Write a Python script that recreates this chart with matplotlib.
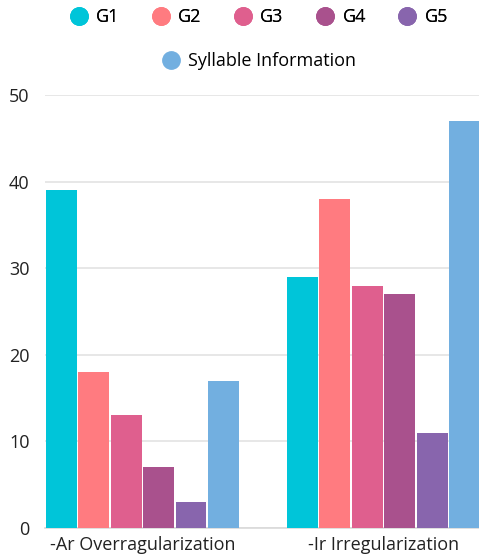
import matplotlib
matplotlib.use('Agg')
import matplotlib.pyplot as plt
from matplotlib.lines import Line2D
import numpy as np

categories = ['-Ar Overragularization', '-Ir Irregularization']
series = ['G1', 'G2', 'G3', 'G4', 'G5', 'Syllable Information']
values = {
    'G1': [39, 29],
    'G2': [18, 38],
    'G3': [13, 28],
    'G4': [7, 27],
    'G5': [3, 11],
    'Syllable Information': [17, 47],
}
colors = ['#00c5d9', '#ff7b80', '#df5f8e', '#a9518d', '#8865ad', '#72afe0']
yticks = [0, 10, 20, 30, 40, 50]

plt.rcParams['font.family'] = ['Open Sans', 'DejaVu Sans']

W, H = 479, 554
fig = plt.figure(figsize=(W / 100, H / 100), dpi=100)
fig.patch.set_facecolor('white')

# axes box in pixels: left 45, bottom at 528, top at 95
ax = fig.add_axes([45 / W, (H - 528) / H, 1 - 45 / W, (528 - 95) / H])

step = 0.1345
width = 0.128
x = np.arange(len(categories))
for i, (name, col) in enumerate(zip(series, colors)):
    ax.bar(x + (i - 2.5) * step, values[name], width=width, color=col,
           zorder=3, clip_on=True)

ax.set_xlim(-0.404, (W - 142.5) / 241)
ax.set_ylim(0, 50)
ax.set_yticks(yticks)
ax.set_xticks(x)
ax.set_xticklabels(categories, fontsize=13, color='#222222')
ax.tick_params(axis='x', length=0, pad=6)
ax.tick_params(axis='y', length=0, pad=11, labelsize=13, labelcolor='#222222')

ax.grid(axis='y', color='#e3e3e3', linewidth=1.2, zorder=0)
for side in ['top', 'right', 'left']:
    ax.spines[side].set_visible(False)
ax.spines['bottom'].set_color('#d9d9d9')
ax.spines['bottom'].set_linewidth(1.2)

handles = [Line2D([], [], marker='o', linestyle='', markersize=12.5,
                  markerfacecolor=c, markeredgecolor=c) for c in colors]

leg1 = fig.legend(handles[:5], series[:5], loc='center', ncol=5,
                  bbox_to_anchor=(259 / W, 1 - 17 / H), frameon=False,
                  fontsize=13, handletextpad=0.45, columnspacing=1.8,
                  handlelength=1.0)
leg2 = fig.legend(handles[5:], series[5:], loc='center',
                  bbox_to_anchor=(259 / W, 1 - 61 / H), frameon=False,
                  fontsize=13, handletextpad=0.45, handlelength=1.0)
fig.add_artist(leg1)

fig.savefig('out.png', dpi=100, facecolor='white')
